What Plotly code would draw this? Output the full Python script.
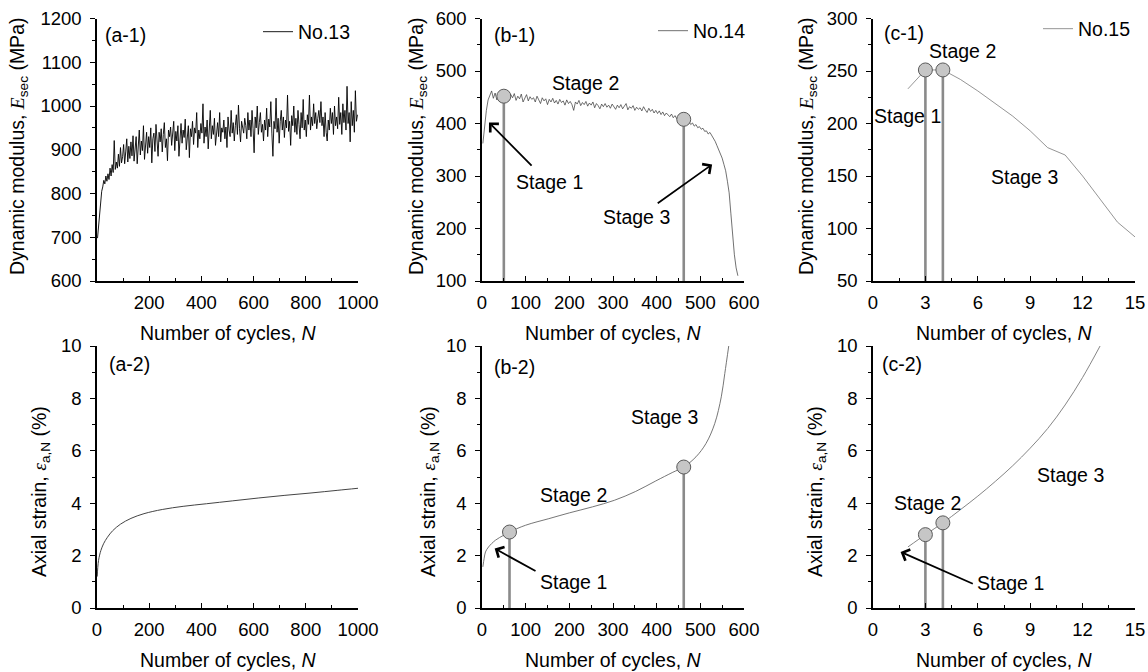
import plotly.graph_objects as go

# ---------------- data ----------------
# (a-1) specimen No.13, dynamic modulus vs cycles (sampled every 4 cycles)
A1_N = list(range(2, 1001, 4))
A1_E = [
    698, 730, 760, 790, 805, 815, 830, 822, 840, 828,
    845, 832, 858, 840, 866, 848, 921, 855, 872, 858,
    890, 862, 905, 870, 884, 912, 868, 895, 925, 872,
    908, 880, 918, 886, 932, 874, 905, 930, 868, 912,
    945, 888, 920, 898, 955, 878, 915, 940, 892, 930,
    905, 950, 870, 925, 938, 896, 958, 912, 885, 940,
    918, 948, 895, 935, 962, 905, 925, 875, 945, 930,
    952, 910, 938, 965, 898, 942, 920, 955, 885, 935,
    960, 915, 945, 928, 970, 900, 938, 955, 882, 948,
    930, 965, 912, 950, 938, 985, 905, 945, 925, 960,
    938, 1005, 915, 952, 930, 968, 902, 948, 990, 925,
    955, 935, 972, 910, 948, 962, 930, 985, 918, 950,
    940, 968, 925, 952, 905, 975, 945, 930, 990, 938,
    962, 920, 955, 980, 935, 1002, 948, 918, 965, 950,
    938, 972, 955, 925, 985, 945, 968, 930, 990, 948,
    893, 975, 950, 1000, 935, 962, 985, 940, 958, 920,
    968, 945, 995, 930, 970, 952, 1010, 938, 885, 965,
    948, 1018, 940, 972, 915, 965, 990, 945, 975, 928,
    968, 950, 1025, 942, 965, 910, 978, 955, 1000, 940,
    972, 935, 990, 958, 925, 985, 950, 1015, 945, 968,
    930, 980, 958, 1025, 945, 975, 955, 1005, 960, 985,
    948, 972, 990, 962, 1010, 955, 975, 930, 985, 940,
    920, 968, 945, 995, 960, 985, 935, 1000, 955, 975,
    948, 1020, 958, 985, 935, 1005, 962, 990, 945, 1045,
    960, 985, 918, 1010, 955, 990, 940, 1035, 965, 980,
]

# (b-1) specimen No.14 (sampled every 4 cycles)
B1_N = list(range(2, 587, 4))
B1_E = [
    362, 398, 425, 445, 455, 462, 448, 458, 445, 455,
    450, 458, 443, 452, 460, 446, 455, 449, 457, 444,
    452, 447, 456, 441, 450, 455, 443, 451, 446, 449,
    441, 452, 445, 438, 449, 443, 447, 436, 446, 441,
    448, 439, 444, 437, 446, 440, 443, 435, 445, 438,
    442, 436, 425, 441, 437, 444, 434, 440, 436, 442,
    433, 439, 435, 441, 430, 438, 434, 428, 437, 432,
    438, 431, 435, 429, 437, 433, 427, 435, 430, 436,
    428, 433, 438, 426, 432, 429, 434, 425, 431, 427,
    430, 424, 432, 426, 421, 429, 423, 427, 420, 425,
    419, 424, 417, 422, 415, 420, 416, 413, 418, 411,
    415, 409, 413, 405, 410, 407, 403, 400, 404, 398,
    401, 395, 398, 392, 394, 389, 391, 385, 386, 380,
    383, 377, 373, 366, 358, 350, 342, 334, 322, 310,
    290, 268, 228, 185, 150, 125, 110,
]

# (c-1) specimen No.15
C1_N = [2, 3, 4, 5, 6, 7, 8, 9, 10, 11, 12, 13, 14, 15]
C1_E = [233, 251, 251, 242, 231, 219, 207, 193, 177, 170, 150, 128, 106, 92]

# (a-2) axial strain, No.13
A2_N = [1, 3, 6, 10, 15, 25, 40, 60, 90, 130, 180, 250, 330, 420, 520, 620, 720, 820, 920, 1000]
A2_S = [1.2, 1.55, 1.82, 2.02, 2.2, 2.45, 2.7, 2.95, 3.2, 3.42, 3.6, 3.76, 3.88, 3.98, 4.09, 4.2, 4.3, 4.39, 4.49, 4.57]

# (b-2) axial strain, No.14
B2_N = [2, 5, 8, 15, 31, 50, 63, 100, 153, 200, 253, 303, 352, 398, 437, 462, 490, 513, 533, 548, 556, 565]
B2_S = [1.57, 1.9, 2.14, 2.33, 2.59, 2.78, 2.9, 3.16, 3.41, 3.63, 3.86, 4.11, 4.45, 4.85, 5.18, 5.38, 5.77, 6.28, 7.04, 8.06, 8.95, 10.0]

# (c-2) axial strain, No.15
C2_N = [2, 3, 4, 5, 6, 7, 8, 9, 10, 11, 12, 13]
C2_S = [2.33, 2.8, 3.25, 3.75, 4.27, 4.83, 5.43, 6.1, 6.85, 7.75, 8.8, 10.0]

# stage boundary markers
B1_MARK_N = [50, 462]
B1_MARK_E = [452, 408]
C1_MARK_N = [3, 4]
C1_MARK_E = [251, 251]
B2_MARK_N = [63, 462]
B2_MARK_S = [2.9, 5.38]
C2_MARK_N = [3, 4]
C2_MARK_S = [2.8, 3.25]

LEGEND_NAMES = ["No.13", "No.14", "No.15"]
PANEL_LABELS = ["(a-1)", "(b-1)", "(c-1)", "(a-2)", "(b-2)", "(c-2)"]

# ---------------- layout helpers ----------------
W, H = 1148, 672
FONT = "Arial, Liberation Sans, sans-serif"
FS = 19.5      # titles / labels
TFS = 18.5     # tick labels


def px_x(p):
    return p / W


def px_y(p):
    return 1 - p / H


COLS = [(97, 358), (482, 744), (873, 1135)]
ROWS = [(18.5, 281), (346, 608)]

fig = go.Figure()


def add_line(xa, ya, xs, ys, color, width, legend=None, name=None, shape="linear"):
    fig.add_trace(go.Scatter(
        x=xs, y=ys, mode="lines", xaxis=xa, yaxis=ya,
        line=dict(color=color, width=width, shape=shape),
        name=name if name else "",
        showlegend=legend is not None,
        legend=legend if legend else "legend",
    ))


def add_marks(xa, ya, xs, ys, base):
    vx, vy = [], []
    for xv, yv in zip(xs, ys):
        vx += [xv, xv, None]
        vy += [base, yv, None]
    fig.add_trace(go.Scatter(x=vx, y=vy, mode="lines", xaxis=xa, yaxis=ya,
                             line=dict(color="#8a8a8a", width=2.6), showlegend=False))
    fig.add_trace(go.Scatter(x=xs, y=ys, mode="markers", xaxis=xa, yaxis=ya,
                             marker=dict(size=14, color="#c6c6c6",
                                         line=dict(color="#5a5a5a", width=1)),
                             showlegend=False))


add_line("x", "y", A1_N, A1_E, "#000000", 0.9, "legend", LEGEND_NAMES[0])
add_line("x2", "y2", B1_N, B1_E, "#333333", 0.7, "legend2", LEGEND_NAMES[1])
add_marks("x2", "y2", B1_MARK_N, B1_MARK_E, 100)
add_line("x3", "y3", C1_N, C1_E, "#7a7a7a", 0.8, "legend3", LEGEND_NAMES[2])
add_marks("x3", "y3", C1_MARK_N, C1_MARK_E, 50)
add_line("x4", "y4", A2_N, A2_S, "#444444", 1.0, shape="spline")
add_line("x5", "y5", B2_N, B2_S, "#666666", 0.9, shape="spline")
add_marks("x5", "y5", B2_MARK_N, B2_MARK_S, 0)
add_line("x6", "y6", C2_N, C2_S, "#777777", 0.9, shape="spline")
add_marks("x6", "y6", C2_MARK_N, C2_MARK_S, 0)

axis_cfg = {
    # name: (range, dtick, minor dtick, first labelled tick)
    "x": ([0, 1000], 200, 100, 200),
    "x2": ([0, 600], 100, 50, 0),
    "x3": ([0, 15], 3, 1.5, 0),
    "x4": ([0, 1000], 200, 100, 0),
    "x5": ([0, 600], 100, 50, 0),
    "x6": ([0, 15], 3, 1.5, 0),
    "y": ([600, 1200], 100, 50, 600),
    "y2": ([100, 600], 100, 50, 100),
    "y3": ([50, 300], 50, 25, 50),
    "y4": ([0, 10], 2, 1, 0),
    "y5": ([0, 10], 2, 1, 0),
    "y6": ([0, 10], 2, 1, 0),
}

layout = dict(
    template="none",
    width=W, height=H, margin=dict(l=0, r=0, t=0, b=0, autoexpand=False),
    paper_bgcolor="white", plot_bgcolor="white",
    font=dict(family=FONT, size=FS, color="black"),
)

for i, (xa, ya) in enumerate([("x", "y"), ("x2", "y2"), ("x3", "y3"),
                              ("x4", "y4"), ("x5", "y5"), ("x6", "y6")]):
    c = COLS[i % 3]
    r = ROWS[i // 3]
    rng, dt, mdt, t0 = axis_cfg[xa]
    tv = []
    v = t0
    while v <= rng[1] + 1e-9:
        tv.append(v)
        v += dt
    xkey = "xaxis" if xa == "x" else "xaxis" + xa[1:]
    ykey = "yaxis" if ya == "y" else "yaxis" + ya[1:]
    layout[xkey] = dict(
        domain=[px_x(c[0]), px_x(c[1])], anchor=ya, range=rng,
        tickmode="array", tickvals=tv, automargin=False,
        showline=True, linecolor="black", linewidth=1.5,
        showgrid=False, zeroline=False,
        ticks="inside", ticklen=5, tickwidth=1.3, tickcolor="black",
        minor=dict(ticks="inside", ticklen=3, tickwidth=1.2, tickcolor="black",
                   dtick=mdt, tick0=0, showgrid=False),
        tickfont=dict(family=FONT, size=TFS, color="black"),
        ticklabelstandoff=4,
    )
    yrng, ydt, ymdt, y0 = axis_cfg[ya]
    layout[ykey] = dict(
        domain=[px_y(r[1]), px_y(r[0])], anchor=xa, range=yrng,
        dtick=ydt, tick0=y0, automargin=False,
        showline=True, linecolor="black", linewidth=1.5,
        showgrid=False, zeroline=False,
        ticks="outside", ticklen=5, tickwidth=1.3, tickcolor="black",
        minor=dict(ticks="outside", ticklen=3, tickwidth=1.2, tickcolor="black",
                   dtick=ymdt, tick0=y0, showgrid=False),
        tickfont=dict(family=FONT, size=TFS, color="black"),
        ticklabelstandoff=5,
    )

# legends
leg_common = dict(bgcolor="rgba(0,0,0,0)", borderwidth=0, font=dict(size=FS, family=FONT, color="black"),
                  xanchor="left", yanchor="middle", itemwidth=30, tracegroupgap=0)
layout["legend"] = dict(leg_common, x=px_x(258), y=px_y(32))
layout["legend2"] = dict(leg_common, x=px_x(653), y=px_y(31))
layout["legend3"] = dict(leg_common, x=px_x(1038), y=px_y(29))

fig.update_layout(**layout)

ann = []
E_TITLE = ('Dynamic modulus, <span style="font-family:Liberation Serif;font-style:italic">E</span>'
           '<sub>sec</sub> (MPa)')
S_TITLE = ('Axial strain, <span style="font-family:Liberation Serif;font-style:italic">ε</span>'
           '<sub>a,N</sub> (%)')
N_TITLE = 'Number of cycles, <i>N</i>'


def pann(xp, yp, text, **kw):
    d = dict(x=px_x(xp), y=px_y(yp), xref="paper", yref="paper", text=text,
             xanchor="center", yanchor="middle", showarrow=False, font=dict(size=FS))
    d.update(kw)
    return d


for (xp, yp) in [(18, 147), (417, 147), (807, 147)]:
    ann.append(pann(xp, yp, E_TITLE, textangle=-90))
for (xp, yp) in [(41, 492), (430, 492), (817, 492)]:
    ann.append(pann(xp, yp, S_TITLE, textangle=-90))
for c in COLS:
    for yp in (333, 660):
        ann.append(pann((c[0] + c[1]) / 2, yp, N_TITLE))

label_pos = [(103, 35), (492, 35), (882, 33), (107, 364), (492, 367), (880, 364)]
for lab, (xp, yp) in zip(PANEL_LABELS, label_pos):
    ann.append(pann(xp, yp, lab, xanchor="left"))

# stage texts (data coordinates)
stage_txt = [
    ("x2", "y2", 237, 477, "Stage 2"), ("x2", "y2", 155, 289, "Stage 1"), ("x2", "y2", 353, 221, "Stage 3"),
    ("x3", "y3", 5.1, 269, "Stage 2"), ("x3", "y3", 2.0, 207, "Stage 1"), ("x3", "y3", 8.7, 149, "Stage 3"),
    ("x5", "y5", 418, 7.3, "Stage 3"), ("x5", "y5", 209, 4.3, "Stage 2"), ("x5", "y5", 209, 0.99, "Stage 1"),
    ("x6", "y6", 3.14, 4.0, "Stage 2"), ("x6", "y6", 11.3, 5.07, "Stage 3"), ("x6", "y6", 7.9, 0.97, "Stage 1"),
]
for xa, ya, xv, yv, t in stage_txt:
    ann.append(dict(x=xv, y=yv, xref=xa, yref=ya, text=t, showarrow=False,
                    xanchor="center", yanchor="middle", font=dict(size=FS)))

arrows = [
    ("x2", "y2", 16, 402, 117, 317),
    ("x2", "y2", 527, 322, 399, 246),
    ("x5", "y5", 29, 2.27, 126, 1.38),
    ("x6", "y6", 1.58, 2.14, 5.8, 0.9),
]
for xa, ya, hx, hy, tx, ty in arrows:
    ann.append(dict(x=hx, y=hy, xref=xa, yref=ya, ax=tx, ay=ty, axref=xa, ayref=ya,
                    text="", showarrow=True, arrowhead=4, arrowsize=1.3, arrowwidth=1.8,
                    arrowcolor="black", standoff=0, startstandoff=0))

fig.update_layout(annotations=ann)

fig.write_html("out.html")
